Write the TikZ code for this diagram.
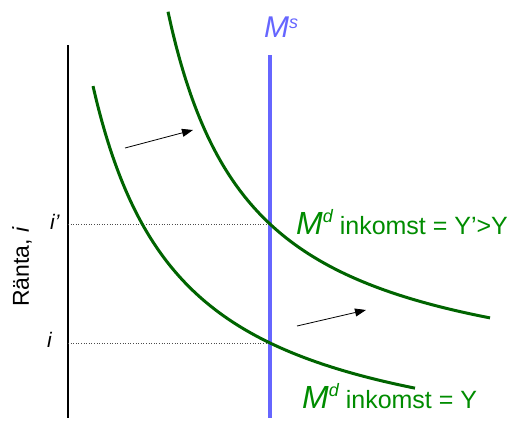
\documentclass[tikz,border=0pt]{standalone}
\usepackage{fontspec}
\setmainfont{Liberation Sans}
\usetikzlibrary{arrows.meta}
\definecolor{curvecolor}{RGB}{0,100,0}
\definecolor{labelcolor}{RGB}{0,140,0}
\definecolor{supplycolor}{RGB}{102,102,255}

\begin{document}
\begin{tikzpicture}[
    x=1pt, y=-1pt,
    axisline/.style={draw=black, line width=2pt},
    supply/.style={draw=supplycolor, line width=3.5pt},
    demand/.style={draw=curvecolor, line width=3pt},
    guide/.style={dotted, line width=0.6pt, draw=black!70},
    shiftarrow/.style={-{Triangle[length=11pt,width=8pt]}, line width=0.8pt},
    lbl/.style={text=labelcolor, font=\fontsize{25}{25}\selectfont, anchor=base west, inner sep=0pt},
    tick/.style={font=\fontsize{21}{21}\selectfont\itshape, anchor=base west, inner sep=0pt}
]
\useasboundingbox (0,0) rectangle (513,421);

% Axis and money supply
\coordinate (ytop) at (68,45);
\coordinate (ybot) at (68,418);
\coordinate (mstop) at (270,55);
\coordinate (msbot) at (270,418);
\draw[axisline] (ytop) -- (ybot);
\draw[supply] (mstop) -- (msbot);
\node[text=supplycolor, font=\fontsize{30}{30}\selectfont\itshape, anchor=base west, inner sep=0pt] (mslabel) at (264,37) {M\raisebox{9pt}{\fontsize{18}{18}\selectfont s}};

% Equilibrium levels
\coordinate (ihigh) at (68,224);
\coordinate (eqhigh) at (270,224);
\coordinate (ilow) at (68,343);
\coordinate (eqlow) at (270,343);
\draw[guide] (ihigh) -- (eqhigh);
\draw[guide] (ilow) -- (eqlow);
\node[tick] (ihighlabel) at (50,229) {i’};
\node[tick] (ilowlabel) at (47,347) {i};
\node[font=\fontsize{23}{23}\selectfont, rotate=90, inner sep=0pt] (ylabel) at (22,267) {Ränta, \textit{i}};

% Money demand curves
\draw[demand] plot[domain=93:415, samples=80, smooth] (\x, {470.7 - 338.5/((\x-5)/100)});
\draw[demand] plot[domain=168:490, samples=80, smooth] (\x, {396.8 - 319.6/((\x-85)/100)});
\node[lbl] (mdhigh) at (296,234) {{\fontsize{32}{32}\selectfont\itshape M}\raisebox{12pt}{\fontsize{18}{18}\selectfont\itshape d} inkomst = Y’>Y};
\node[lbl] (mdlow) at (302,408) {{\fontsize{32}{32}\selectfont\itshape M}\raisebox{12pt}{\fontsize{18}{18}\selectfont\itshape d} inkomst = Y};

% Shift arrows
\coordinate (s1a) at (125,148);
\coordinate (s1b) at (193,130);
\coordinate (s2a) at (297,326);
\coordinate (s2b) at (366,310);
\draw[shiftarrow] (s1a) -- (s1b);
\draw[shiftarrow] (s2a) -- (s2b);
\end{tikzpicture}
\end{document}
